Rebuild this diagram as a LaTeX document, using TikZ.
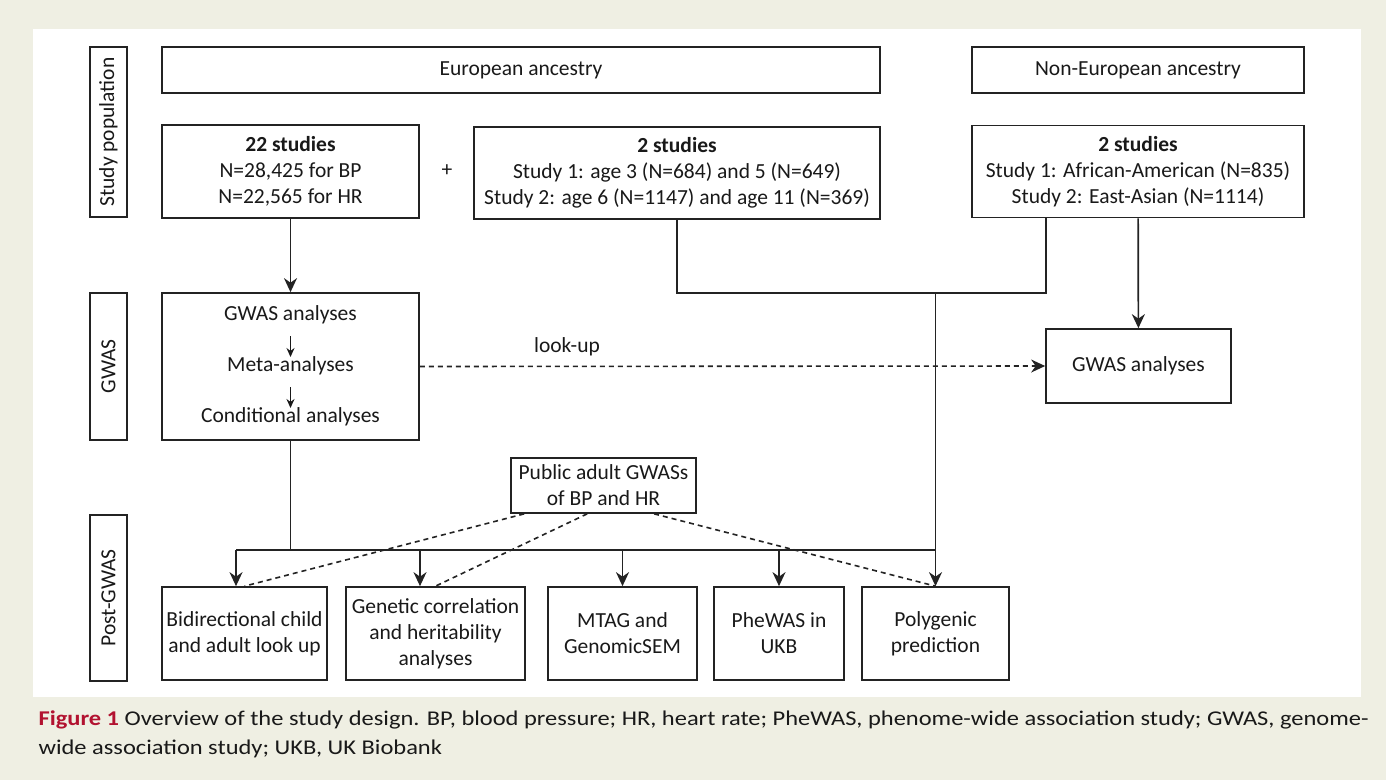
\documentclass[tikz,border=0pt]{standalone}
\usepackage{fontspec}
\setmainfont{Carlito}
\newfontfamily\capfont[FakeStretch=1.165]{Carlito}
\usetikzlibrary{arrows.meta,calc}
\definecolor{bgbeige}{RGB}{239,239,227}
\definecolor{lnc}{RGB}{35,35,35}
\definecolor{txc}{RGB}{25,25,25}
\definecolor{figred}{RGB}{178,18,48}
\begin{document}
\begin{tikzpicture}[x=1pt,y=-1pt,
  every node/.style={font=\fontsize{21.5}{26}\selectfont, text=txc},
  box/.style={draw=lnc, line width=1.7pt, align=center, inner sep=0pt},
  sidebox/.style={box, rotate=90, minimum height=37pt},
  conn/.style={draw=lnc, line width=1.7pt},
  arr/.style={conn, -{Stealth[length=14pt,width=13pt,inset=4.5pt]}},
  dsh/.style={conn, line width=1.6pt, dash pattern=on 5pt off 4pt},
  dsharr/.style={dsh, -{Stealth[length=14pt,width=13pt,inset=4.5pt]}},
  smallarr/.style={draw=txc, line width=1.4pt, -{Stealth[length=9pt,width=8pt,inset=3pt]}},
  captxt/.style={anchor=base west, font=\capfont\fontsize{21}{26}\selectfont, text=txc}
]
\useasboundingbox (0,0) rectangle (1386,780);
\fill[bgbeige] (0,0) rectangle (1386,780);
\fill[white] (33,29) rectangle (1361,697);

% side labels
\node[sidebox, minimum width=170pt] (sp) at (108.5,132) {Study population};
\node[sidebox, minimum width=147pt] (gl) at (108.5,366.5) {GWAS};
\node[sidebox, minimum width=166pt] (pl) at (108.5,598) {Post-GWAS};

% top row
\node[box, minimum width=718pt, minimum height=46pt] (eur) at (521,70) {European ancestry};
\node[box, minimum width=332pt, minimum height=46pt] (neur) at (1138,70) {Non-European ancestry};

% studies
\node[box, minimum width=257pt, minimum height=93pt] (s22) at (290.5,171.5)
  {\textbf{22 studies}\\N=28,425 for BP\\N=22,565 for HR};
\node (plus) at (447,171) {+};
\node[box, minimum width=406pt, minimum height=92pt] (s2m) at (677,173)
  {\textbf{2 studies}\\Study 1: age 3 (N=684) and 5 (N=649)\\Study 2: age 6 (N=1147) and age 11 (N=369)};
\node[box, minimum width=332pt, minimum height=92pt] (s2r) at (1138,171.5)
  {\textbf{2 studies}\\Study 1: African-American (N=835)\\Study 2: East-Asian (N=1114)};

% GWAS
\node[box, minimum width=257pt, minimum height=147pt] (gm) at (290.5,366.5) {};
\node (t1) at (290.5,315) {GWAS analyses};
\node (t2) at (290.5,366) {Meta-analyses};
\node (t3) at (290.5,417) {Conditional analyses};
\coordinate (a1s) at (290.5,336);
\coordinate (a1e) at (290.5,357);
\coordinate (a2s) at (290.5,387);
\coordinate (a2e) at (290.5,408);
\draw[smallarr] (a1s) -- (a1e);
\draw[smallarr] (a2s) -- (a2e);

\node[box, minimum width=185pt, minimum height=74pt] (gr) at (1138.5,366) {GWAS analyses};

% public
\node[box, minimum width=185pt, minimum height=55pt] (pub) at (603.5,485.5)
  {Public adult GWASs\\of BP and HR};

% bottom boxes
\node[box, minimum width=165pt, minimum height=93pt] (b1) at (244.5,633.5)
  {Bidirectional child\\and adult look up};
\node[box, minimum width=179pt, minimum height=93pt] (b2) at (435.5,633.5)
  {Genetic correlation\\and heritability\\analyses};
\node[box, minimum width=149pt, minimum height=93pt] (b3) at (622.5,633.5)
  {MTAG and\\GenomicSEM};
\node[box, minimum width=130pt, minimum height=93pt] (b4) at (779,633.5)
  {PheWAS in\\UKB};
\node[box, minimum width=147pt, minimum height=93pt] (b5) at (935.5,633.5)
  {Polygenic\\prediction};

% connectors top
\draw[arr] (s22) -- (gm);
\coordinate (jr) at (1046,293);
\coordinate (jm) at (935.5,293);
\draw[conn] (s2m.south) |- (jr) -- (jr |- s2r.south);
\draw[arr] (s2r) -- (gr);
\draw[arr] (jm) -- (b5.north);

% look-up
\draw[dsharr] (gm.east) -- (gr.west);
\node (lk) at (567,347) {look-up};

% bus to post-GWAS
\coordinate (hl) at (236,550);
\coordinate (hr) at (935.5,550);
\coordinate (h2) at (420,550);
\coordinate (h3) at (622.5,550);
\coordinate (h4) at (779,550);
\draw[conn] (gm.south) -- (gm.south |- hl);
\draw[conn] (hl) -- (hr);
\draw[arr] (hl) -- (hl |- b1.north);
\draw[arr] (h2) -- (h2 |- b2.north);
\draw[arr] (h3) -- (h3 |- b3.north);
\draw[arr] (h4) -- (h4 |- b4.north);

% dashed from public
\draw[dsh] ($(pub.south west)+(14,0)$) -- (b1.north);
\draw[dsh] ($(pub.south west)+(77,0)$) -- (b2.north);
\draw[dsh] ($(pub.south west)+(144,0)$) -- (b5.north);

% caption
\node[captxt] (cap1) at (35,725) {\textcolor{figred}{\textbf{Figure 1}} Overview of the study design. BP, blood pressure; HR, heart rate; PheWAS, phenome-wide association study; GWAS, genome-};
\node[captxt] (cap2) at (35,754) {wide association study; UKB, UK Biobank};
\end{tikzpicture}
\end{document}
